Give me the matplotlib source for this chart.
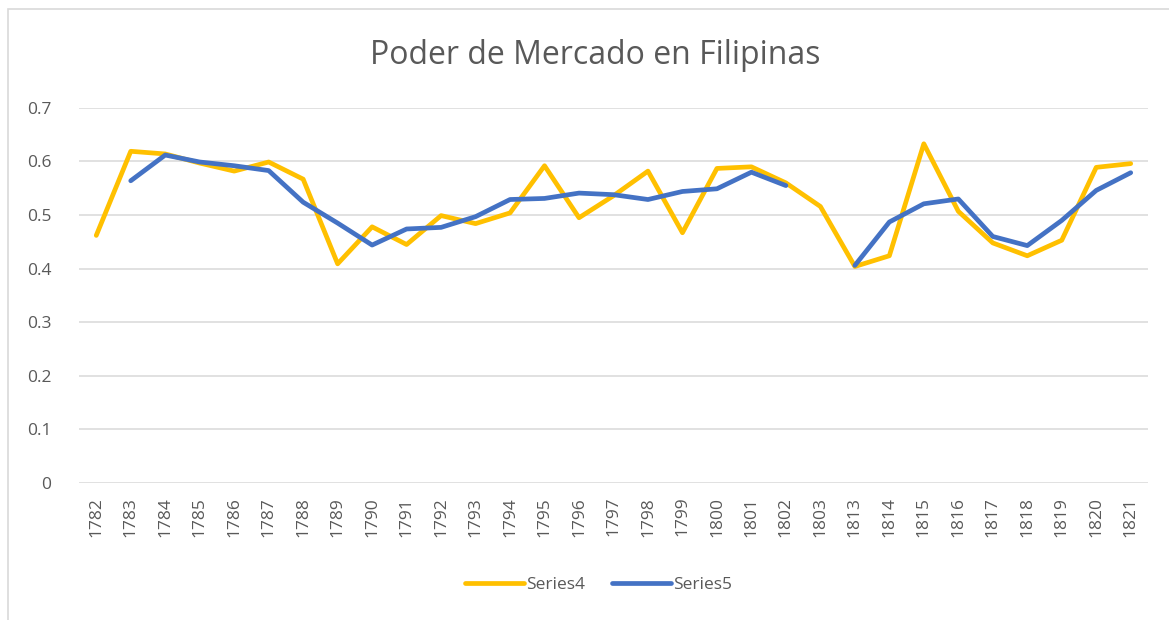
import numpy as np
import matplotlib
matplotlib.use("Agg")
import matplotlib.pyplot as plt
from matplotlib.patches import Rectangle

years = ["1782", "1783", "1784", "1785", "1786", "1787", "1788", "1789", "1790",
         "1791", "1792", "1793", "1794", "1795", "1796", "1797", "1798", "1799",
         "1800", "1801", "1802", "1803", "1813", "1814", "1815", "1816", "1817",
         "1818", "1819", "1820", "1821"]

series4 = [0.462, 0.619, 0.614, 0.597, 0.582, 0.599, 0.567, 0.409, 0.478,
           0.445, 0.499, 0.484, 0.504, 0.592, 0.495, 0.536, 0.582, 0.467,
           0.587, 0.590, 0.560, 0.516, 0.404, 0.424, 0.633, 0.507, 0.448,
           0.424, 0.453, 0.589, 0.596]

# nan = no value for that year
series5 = [np.nan, 0.564, 0.612, 0.599, 0.592, 0.583, 0.524, 0.485, 0.444,
           0.474, 0.477, 0.497, 0.529, 0.531, 0.541, 0.538, 0.529, 0.544,
           0.549, 0.580, 0.555, np.nan, 0.406, 0.487, 0.521, 0.530, 0.460,
           0.443, 0.490, 0.546, 0.579]

yticks = [0, 0.1, 0.2, 0.3, 0.4, 0.5, 0.6, 0.7]
ytick_labels = ["0", "0.1", "0.2", "0.3", "0.4", "0.5", "0.6", "0.7"]

plt.rcParams['font.family'] = ['Open Sans', 'DejaVu Sans']
txt = '#595959'

fig = plt.figure(figsize=(11.69, 6.2), dpi=100)
ax = fig.add_axes([0.0676, 0.221, 0.9144, 0.605])

x = np.arange(len(years))
ax.plot(x, series4, color='#FFC000', lw=3.4, solid_joinstyle='round',
        solid_capstyle='round', label='Series4', zorder=3)
ax.plot(x, series5, color='#4472C4', lw=3.4, solid_joinstyle='round',
        solid_capstyle='round', label='Series5', zorder=4)

ax.set_xlim(-0.5, len(years) - 0.5)
ax.set_ylim(0, 0.7)
ax.set_yticks(yticks)
ax.set_yticklabels(ytick_labels)
ax.set_xticks(x)
ax.set_xticklabels(years, rotation=90)
ax.tick_params(length=0, colors=txt, labelsize=12.5)
ax.tick_params(axis='y', pad=20)
ax.tick_params(axis='x', pad=10)
ax.grid(axis='y', color='#D9D9D9', lw=1.1)
ax.set_axisbelow(True)
for s in ax.spines.values():
    s.set_visible(False)

fig.text(0.509, 0.91, 'Poder de Mercado en Filipinas', ha='center', va='center',
         fontsize=23, color=txt)

leg = fig.legend(loc='center', bbox_to_anchor=(0.512, 0.056), ncol=2, frameon=False,
                 fontsize=12.5, handlelength=3.4, handletextpad=0.1, columnspacing=1.6)
for t in leg.get_texts():
    t.set_color(txt)

# chart frame
fig.patches.append(Rectangle((8 / 1169, -0.1), 1.2, 1 - 9 / 620 + 0.1,
                             transform=fig.transFigure, fill=False,
                             edgecolor='#D9D9D9', lw=1.2))

fig.savefig('out.png', dpi=100)
